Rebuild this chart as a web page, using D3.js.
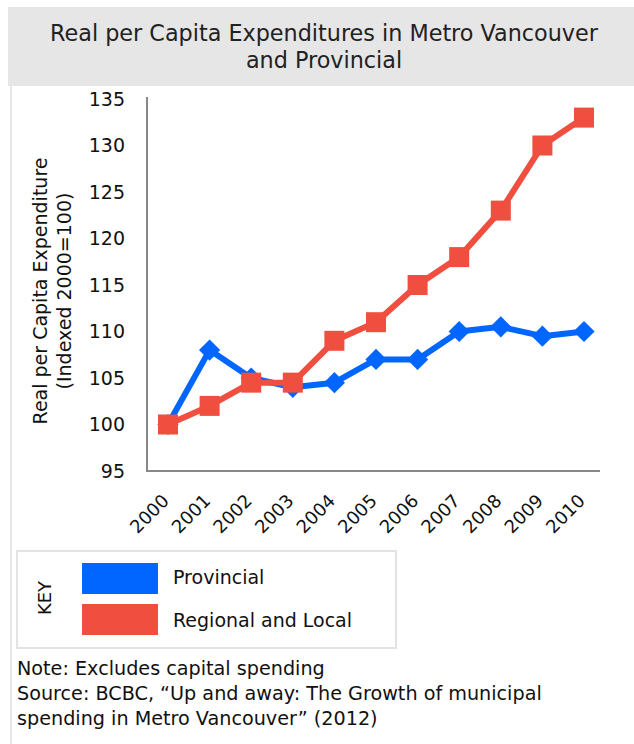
<!DOCTYPE html>
<html><head><meta charset="utf-8">
<script src="https://cdn.jsdelivr.net/npm/d3@7"></script>
<style>body{margin:0;background:#fff;} svg{display:block;font-family:"DejaVu Sans",Verdana,sans-serif;}</style>
</head><body>
<svg id="c" width="634" height="744"></svg>
<script>
const years = [2000,2001,2002,2003,2004,2005,2006,2007,2008,2009,2010];
const provincial = [100,108,105,104,104.5,107,107,110,110.5,109.5,110];
const regional = [100,102,104.5,104.5,109,111,115,118,123,130,133];
const yTicks = [95,100,105,110,115,120,125,130,135];
const titleLines = ["Real per Capita Expenditures in Metro Vancouver","and Provincial"];
const yLabelLines = ["Real per Capita Expenditure","(Indexed 2000=100)"];
const seriesNames = ["Provincial","Regional and Local"];
const colors = ["#0066ff","#f04e3e"];
const notes = ["Note: Excludes capital spending","Source: BCBC, \u201cUp and away: The Growth of municipal","spending in Metro Vancouver\u201d (2012)"];

const svg = d3.select("#c");
// panel
svg.append("rect").attr("x",8).attr("y",7).attr("width",626).attr("height",79).attr("fill","#e6e6e6");
svg.append("rect").attr("x",10).attr("y",86).attr("width",2).attr("height",658).attr("fill","#e6e6e6");
svg.selectAll("text.title").data(titleLines).join("text")
  .attr("x",324).attr("y",(d,i)=>41+i*27).attr("text-anchor","middle")
  .attr("font-size",22.3).attr("fill","#222").text(d=>d);

const x = d3.scalePoint().domain(years).range([168,584]);
const y = d3.scaleLinear().domain([95,135]).range([471,99]);

// axes
svg.append("line").attr("x1",147).attr("x2",147).attr("y1",97).attr("y2",471).attr("stroke","#888").attr("stroke-width",2);
svg.append("line").attr("x1",146).attr("x2",600).attr("y1",471).attr("y2",471).attr("stroke","#888").attr("stroke-width",2);
svg.selectAll("text.yt").data(yTicks).join("text")
  .attr("x",125).attr("y",d=>y(d)).attr("dy","0.36em").attr("text-anchor","end")
  .attr("font-size",19).attr("fill","#111").text(d=>d);
svg.selectAll("text.xt").data(years).join("text")
  .attr("text-anchor","end").attr("font-size",18).attr("fill","#111")
  .attr("transform",d=>`translate(${x(d)+2},${502}) rotate(-45)`).text(d=>d);
svg.selectAll("text.yl").data(yLabelLines).join("text")
  .attr("text-anchor","middle").attr("font-size",19).attr("fill","#111")
  .attr("transform",(d,i)=>`translate(${47+i*24},291) rotate(-90)`).text(d=>d);

const line = d3.line().x((d,i)=>x(years[i])).y(d=>y(d));
// provincial
svg.append("path").attr("d",line(provincial)).attr("fill","none").attr("stroke",colors[0]).attr("stroke-width",6).attr("stroke-linejoin","round");
svg.selectAll("path.dia").data(provincial).join("path")
  .attr("d",d3.symbol().type(d3.symbolSquare).size(225))
  .attr("transform",(d,i)=>`translate(${x(years[i])},${y(d)}) rotate(45)`)
  .attr("fill",colors[0]);
// regional
svg.append("path").attr("d",line(regional)).attr("fill","none").attr("stroke",colors[1]).attr("stroke-width",6).attr("stroke-linejoin","round");
svg.selectAll("rect.sq").data(regional).join("rect")
  .attr("x",(d,i)=>x(years[i])-10).attr("y",d=>y(d)-10).attr("width",20).attr("height",20)
  .attr("fill",colors[1]);

// legend
svg.append("rect").attr("x",17).attr("y",551).attr("width",379).attr("height",97).attr("fill","none").attr("stroke","#e3e3e3").attr("stroke-width",2);
svg.append("text").attr("transform","translate(51,598) rotate(-90)").attr("text-anchor","middle").attr("font-size",18).attr("fill","#111").text("KEY");
seriesNames.forEach((n,i)=>{
  svg.append("rect").attr("x",82).attr("y",563+i*41).attr("width",76).attr("height",31).attr("fill",colors[i]);
  svg.append("text").attr("x",173).attr("y",584+i*43).attr("font-size",19).attr("fill","#111").text(n);
});
svg.selectAll("text.note").data(notes).join("text")
  .attr("x",17).attr("y",(d,i)=>675+i*25).attr("font-size",19.2).attr("fill","#111").text(d=>d);
</script>
</body></html>
